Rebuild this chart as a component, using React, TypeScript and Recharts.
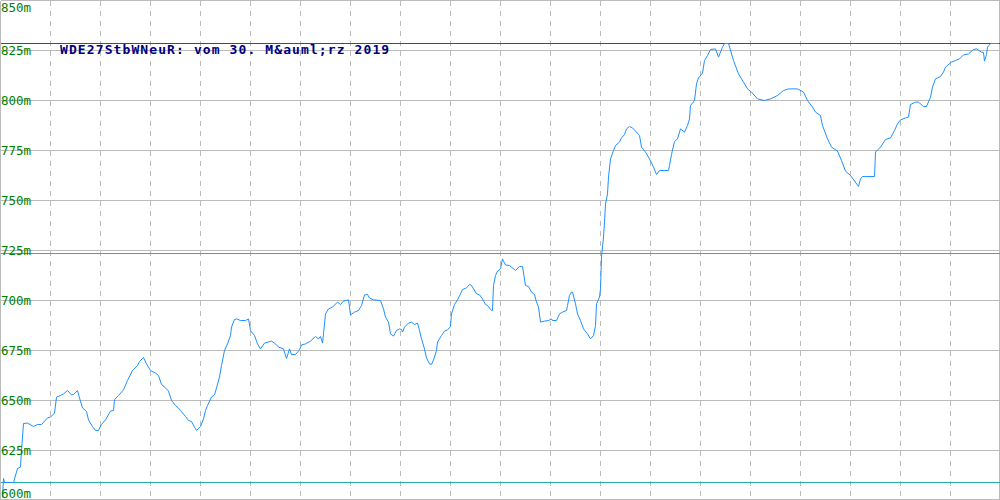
import { CartesianGrid, ComposedChart, Line, ReferenceLine, XAxis, YAxis } from "recharts";

// sample position along the day (0..1000) and water level in m
const t = [
  2, 3, 4, 13, 17, 20, 21, 23, 27, 33,
  37, 41, 47, 50, 54, 56, 60, 63, 67, 71,
  73, 77, 79, 82, 86, 88, 92, 95, 98, 101,
  105, 110, 113, 114, 118, 123, 127, 132, 137, 139,
  143, 146, 150, 155, 158, 161, 165, 168, 171, 175,
  178, 180, 185, 188, 191, 194, 196, 200, 203, 205,
  207, 211, 214, 216, 219, 221, 224, 227, 230, 231,
  234, 236, 240, 245, 248, 250, 254, 257, 260, 264,
  271, 275, 278, 283, 286, 289, 291, 295, 299, 301,
  305, 310, 315, 318, 320, 322, 323, 325, 328, 332,
  337, 340, 343, 348, 350, 354, 358, 361, 364, 367,
  369, 373, 380, 383, 385, 388, 390, 393, 396, 399,
  401, 402, 404, 408, 411, 414, 417, 419, 421, 424,
  426, 429, 431, 433, 436, 437, 441, 444, 447, 450,
  451, 454, 457, 460, 462, 466, 469, 471, 476, 479,
  482, 485, 487, 491, 492, 493, 495, 497, 500, 502,
  503, 505, 509, 515, 519, 522, 525, 528, 531, 534,
  536, 538, 540, 544, 548, 551, 552, 556, 559, 562,
  566, 567, 569, 571, 572, 575, 577, 580, 583, 587,
  590, 593, 595, 596, 599, 600, 601, 603, 604, 605,
  607, 608, 610, 613, 615, 619, 621, 624, 626, 629,
  632, 635, 639, 641, 645, 649, 653, 656, 659, 668,
  669, 671, 674, 677, 680, 684, 687, 689, 690, 694,
  696, 698, 702, 704, 707, 710, 715, 718, 722, 724,
  728, 733, 738, 743, 747, 751, 757, 764, 770, 777,
  783, 788, 797, 803, 807, 812, 815, 820, 822, 827,
  831, 837, 841, 845, 850, 858, 860, 862, 865, 874,
  875, 880, 885, 890, 894, 897, 900, 905, 908, 910,
  915, 918, 923, 926, 930, 932, 935, 940, 943, 945,
  951, 955, 959, 963, 968, 973, 976, 981, 983, 984,
  986, 987, 990, 998,
];

const level = [
  601.5, 611, 609, 609, 616, 616.7, 625, 638.5, 638.7, 637,
  638, 638, 641.3, 641.7, 643.7, 651.7, 652.5, 653.3, 655, 652.8,
  653, 655, 651.3, 646.3, 644.5, 640.3, 637, 635, 635, 638,
  640.3, 644.7, 645, 650.5, 652.5, 655.3, 660, 665, 667.5, 669.5,
  671.5, 668.3, 665, 663.7, 662.5, 658, 656.3, 654.7, 650, 647.5,
  646.2, 645, 642, 640, 639.5, 636.7, 635, 637, 640.8, 645,
  647.5, 651.7, 652.8, 656.3, 661.7, 667.5, 675, 678.3, 682.5, 686.7,
  690.5, 690.8, 690, 690, 690.8, 685, 682.5, 678.3, 675.8, 678.7,
  679.7, 678.3, 676.7, 675.8, 671, 675.8, 673, 673, 675.3, 677.8,
  678.3, 679.7, 682, 680.8, 682, 678.7, 683.3, 693.3, 695.8, 696.7,
  699.2, 698, 699.7, 700.3, 692.8, 694.2, 695, 697.5, 702.8, 703,
  701.2, 700.3, 700, 695.8, 691.7, 689.2, 683.3, 682.2, 685, 685.8,
  685.5, 684.2, 686.7, 688.7, 689.2, 688, 688.7, 685, 680.8, 675.8,
  671.3, 668.3, 668, 670.3, 675, 679.2, 682.5, 684.7, 685.3, 687,
  693.3, 698, 700.3, 703.3, 705.5, 706.3, 708, 707.5, 703.3, 702.8,
  700.8, 698, 697.5, 695, 695, 707.5, 712.5, 714.7, 715.8, 720.8,
  719.7, 717.8, 717.5, 715, 717, 717, 707.5, 707, 704.2, 703,
  699.2, 696.7, 689.2, 689.7, 690, 690.8, 690, 690, 693.3, 694.2,
  695, 697.5, 702.5, 704.2, 704.2, 698.3, 693.3, 690, 685.8, 683.3,
  680.8, 682.5, 687.5, 698.3, 701.7, 705.8, 721.7, 731.7, 739.2, 748.3,
  753.3, 761.7, 770.8, 775, 777.5, 779.2, 781.3, 783, 785.8, 787,
  786.3, 784.7, 782.5, 776.7, 774.2, 770.8, 766.7, 763, 765, 765,
  767.5, 773, 779.5, 780.8, 785.8, 784.2, 787.5, 790.8, 797.5, 800,
  808.3, 811.3, 813.7, 820, 822.5, 825.5, 825.8, 821.7, 826.7, 828.5,
  828.5, 820, 813.3, 809.2, 805.8, 804.2, 800.8, 800, 800.8, 802.5,
  805, 805.8, 805.8, 804.2, 800, 796.7, 794.2, 792.5, 787.5, 780.8,
  776.7, 774.7, 770, 764.7, 762.5, 757, 760.8, 762, 762, 762,
  774.2, 776.7, 780.5, 781.3, 785, 788.3, 790.3, 791.3, 791.7, 798,
  799.2, 799.2, 797, 797, 801.7, 806.7, 810.8, 812, 814.2, 816.7,
  819.2, 820, 820.8, 822.8, 823.3, 825.5, 825.8, 824.2, 824, 819.7,
  823, 826.7, 828.5, 828.5,
];

const yTicks = [600, 625, 650, 675, 700, 725, 750, 775, 800, 825, 850];
const xTicks = [0, 50, 100, 150, 200, 250, 300, 350, 400, 450, 500, 550, 600, 650, 700, 750, 800, 850, 900, 950, 1000];

const maxLevel = 828.5;
const meanLevel = 723.5;
const minLevel = 609;

const title = "WDE27StbWNeuR: vom 30. M&auml;rz 2019";

const data = t.map((x, i) => ({ t: x, level: level[i] }));

function YTick(props: any) {
  const { y, payload } = props;
  const base = Math.min(Math.max(y + 4, 12), 498);
  return (
    <text x={1} y={base} fill="#008000" fontSize={12.5} fontFamily="DejaVu Sans Mono" textAnchor="start">
      {payload.value}m
    </text>
  );
}

export default function App() {
  return (
    <div style={{ position: "absolute", left: 0, top: 0, width: 1000, height: 500, overflow: "hidden", background: "#fff" }}>
      <ComposedChart width={1001} height={501} data={data} margin={{ top: 0.5, right: 0.5, bottom: 0.5, left: 0.5 }}>
        <XAxis dataKey="t" type="number" domain={[0, 1000]} ticks={xTicks} hide />
        <YAxis
          domain={[600, 850]}
          ticks={yTicks}
          mirror
          axisLine={false}
          tickLine={false}
          tick={<YTick />}
          interval={0}
        />
        <CartesianGrid horizontal={false} stroke="#bbbbbb" strokeDasharray="5 5" shapeRendering="crispEdges" />
        <CartesianGrid vertical={false} stroke="#bbbbbb" shapeRendering="crispEdges" />
        <ReferenceLine x={0} stroke="#bbbbbb" shapeRendering="crispEdges" />
        <ReferenceLine x={999} stroke="#bbbbbb" shapeRendering="crispEdges" />
        <ReferenceLine y={600.5} stroke="#bbbbbb" shapeRendering="crispEdges" />
        <ReferenceLine y={maxLevel} stroke="#008000" shapeRendering="crispEdges" />
        <ReferenceLine y={meanLevel} stroke="#3cb371" shapeRendering="crispEdges" />
        <ReferenceLine y={minLevel} stroke="#20b2aa" shapeRendering="crispEdges" />
        <Line
          dataKey="level"
          type="linear"
          stroke="#1e90ff"
          strokeWidth={1}
          dot={false}
          isAnimationActive={false}
        />
      </ComposedChart>
      <div
        style={{
          position: "absolute",
          left: 60,
          top: 42,
          fontFamily: "DejaVu Sans Mono",
          fontWeight: "bold",
          fontSize: 13,
          letterSpacing: 1.1,
          color: "#000080",
          whiteSpace: "pre",
          lineHeight: "16px",
        }}
      >
        {title}
      </div>
    </div>
  );
}
